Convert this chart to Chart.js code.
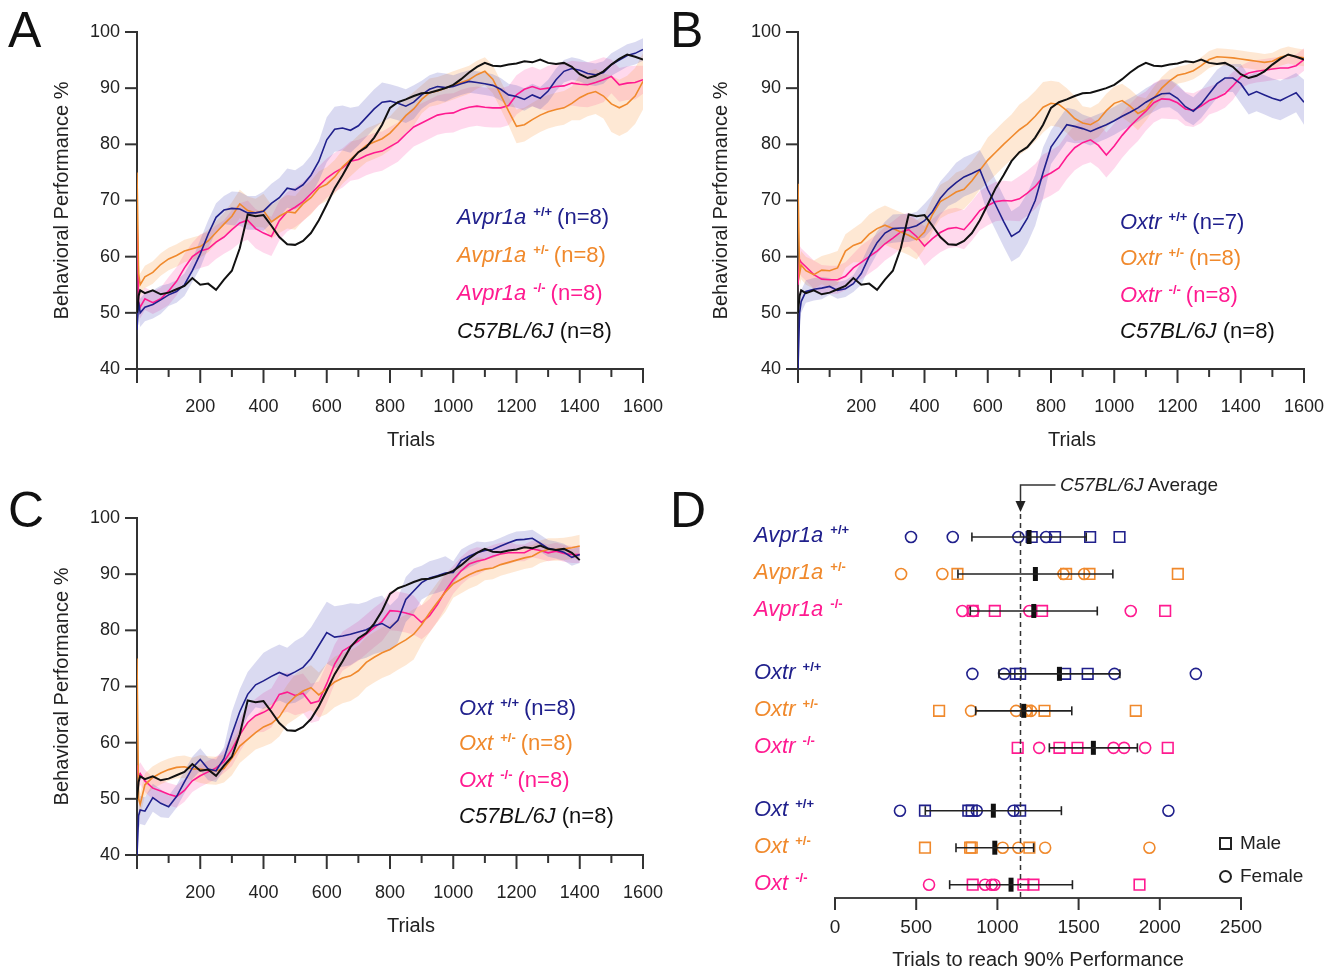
<!DOCTYPE html>
<html lang="en">
<head>
<meta charset="UTF-8">
<title>Trials to criterion</title>
<style>
  body { margin: 0; background: #fff; font-family: "Liberation Sans", Arial, sans-serif; }
  #fig { position: relative; width: 1340px; height: 976px; overflow: hidden; background: #fff; }
  #fig canvas { position: absolute; }
  .txt { position: absolute; white-space: nowrap; color: #222; }
  .txt i { font-style: italic; }
  .txt sup { font-size: 13px; font-weight: bold; font-style: normal; vertical-align: 8px; line-height: 0; margin: 0 5px 0 7px; }
  .mk { position: absolute; width: 9px; height: 9px; border: 2px solid #222; box-sizing: content-box; }
</style>
</head>
<body>
<div id="fig">
  <canvas id="chartA" width="670" height="470" style="left:0;top:0"></canvas>
  <canvas id="chartB" width="670" height="470" style="left:670px;top:0"></canvas>
  <canvas id="chartC" width="670" height="496" style="left:0;top:480px"></canvas>
  <canvas id="chartD" width="670" height="506" style="left:670px;top:470px"></canvas>
</div>

<script src="https://cdn.jsdelivr.net/npm/chart.js"></script>
<script>
// trial numbers shared by every curve (panel C stops at 1400)
const trials = [0, 5, 10,
  25, 50, 75, 100, 125, 150, 175, 200, 225, 250, 275, 300, 325, 350, 375, 400,
  425, 450, 475, 500, 525, 550, 575, 600, 625, 650, 675, 700, 725, 750, 775, 800,
  825, 850, 875, 900, 925, 950, 975, 1000, 1025, 1050, 1075, 1100, 1125, 1150, 1175, 1200,
  1225, 1250, 1275, 1300, 1325, 1350, 1375, 1400, 1425, 1450, 1475, 1500, 1525, 1550, 1575, 1600];

// C57BL/6J control, same curve in A, B and C
const c57 = [50, 53, 54,
  53.5, 54, 53.3, 53.6,  54.2, 54.8, 56.2, 55,  55.2, 54.1, 55.9, 57.5,  61.5, 67.5, 67.2, 67.4,
  65.5, 63.5, 62.2, 62.1,  62.8, 64.2, 66.5, 69.3,  72.2, 74.5, 77, 78.6,  79.5, 81.2, 83.5, 86.5,
  87.5, 88, 88.6, 89.1,  89.2, 89.6, 90, 90.6,  91.6, 92.8, 93.8, 94.5,  94, 93.9, 94.2, 94.4,
  94.8, 94.6, 95.1, 94.5,  94.3, 94.5, 93.8, 92.5,  91.8, 92.2, 93, 94.2,  95.2, 96, 95.6, 95.1];

// panel A
const avprWt = [47, 52, 50,
  51, 51.5, 52.3, 53.2,  53.8, 55, 57.5, 60.5,  64, 67, 68.3, 68.6,  68.5, 67.8, 67.8, 68.1,
  69.5, 70.5, 72.2, 71.9,  72.8, 74.5, 77, 80.8,  82.7, 82.9, 82.5, 83.3,  84.8, 86.3, 87.5, 87.7,
  87.3, 86.8, 87.5, 88.8,  89.8, 90.3, 90.1, 90.3,  90.8, 91.2, 91, 90.8,  90.5, 89.8, 88.8, 88.5,
  88, 88.8, 88.2, 89.5,  91.5, 93, 93.5, 93.2,  92.6, 92.4, 92.8, 94.2,  95, 95.8, 96.2, 96.9];
const avprHet = [75, 57, 55,
  56.4, 57.2, 58.6, 59.6,  60.2, 61, 61.4, 61.8,  62.8, 64.3, 65.8, 67.2,  69.4, 68.2, 67.8, 68.2,
  66.2, 67.2, 68, 67.8,  69.4, 70.5, 72.2, 72.9,  74.2, 76, 77.3, 78.6,  79.8, 80.4, 81, 82,
  83.5, 85.1, 86.3, 88,  89.2, 89.5, 90, 90.5,  91, 91.5, 92.4, 93,  91.6, 88.8, 85.9, 83.2,
  83.5, 84.4, 85.2, 85.8,  86.2, 86.5, 87.3, 88.3,  89, 89.4, 88.6, 87.2,  86.5, 87.2, 88.6, 91.2];
const avprKo = [67, 52, 51,
  52.5, 51.8, 52.5, 53.9,  55.6, 58, 60, 61,  61.4, 62.6, 63.5, 64.8,  66, 66.5, 65, 64.2,
  63.6, 66.4, 68, 68.8,  69.8, 71.2, 72.6, 74,  75, 75.8, 77, 77.3,  78, 78.5, 78.8, 79.6,
  80.4, 81.8, 83.1, 83.8,  84.5, 85.2, 85.5, 85.6,  86.2, 86.6, 86.8, 86.6,  86.5, 86.5, 86.9, 88.8,
  89.8, 90.3, 89.8, 90,  90.3, 90.4, 90.9, 90.7,  90.6, 91, 91.5, 92.1,  90.6, 90.9, 91, 91.5];

// panel B
const oxtrWt = [40, 50, 52,
  53.8, 54.2, 54.4, 54.7,  54, 54.3, 55.2, 57,  60, 62.5, 64.2, 65,  65.1, 65.1, 65.5, 66.4,
  68, 70.4, 72, 73.2,  74.2, 74.8, 75.5, 72,  69.2, 66.3, 63.6, 64.5,  66.8, 70, 75, 79.5,
  81.5, 83.5, 83.2, 82.8,  82.3, 82.9, 83.5, 84.2,  85, 85.7, 86.5, 87.5,  88.3, 89, 89.1, 88.2,
  86.7, 85.9, 87.2, 89,  90.8, 91.8, 91.8, 90.8,  88.8, 89.4, 88.8, 88.2,  87.8, 88.5, 89.2, 87.5];
const oxtrHet = [73, 57, 58.5,
  57.5, 56.8, 57.6, 57.5,  58, 61, 62, 62.5,  64, 65, 65.6, 65,  64.4, 63.8, 63, 64.4,
  67.5, 69.8, 70.6, 71.5,  72, 73.5, 75.4, 77.2,  78.6, 80, 81.3, 82.6,  83.6, 85, 86.6, 87.3,
  87.1, 86, 84.6, 83.8,  83.5, 84.3, 86, 87.3,  87.8, 86.8, 85.5, 86.2,  88.2, 90, 91.3, 92.3,
  92.6, 93.1, 94, 95.1,  95.6, 95.5, 95.4, 95.2,  95, 94.8, 94.6, 94.8,  95.5, 95.9, 95.6, 95.4];
const oxtrKo = [55, 59.5, 59,
  58.2, 56.8, 56, 55.9,  55.9, 56.5, 58, 59,  60, 61, 62.3, 63.3,  64.4, 64.8, 63.6, 61.9,
  63.2, 64.3, 65, 65.2,  64.8, 66.4, 68.2, 69.1,  69.8, 70, 69.9, 70.3,  71.3, 72.5, 74.2, 74.9,
  75.8, 77.8, 79.4, 80.3,  80.8, 79.8, 78.1, 79.7,  81.6, 83.2, 84.6, 85.9,  87.4, 88.1, 88, 87.4,
  86.3, 86.1, 86.8, 87.8,  88.3, 89, 90.4, 92,  92.7, 93, 93.2, 93.4,  93.6, 93.6, 94, 95.1];

// panel C (0 - 1400 trials)
const oxtWt = [40, 47, 48,
  47.8, 50.2, 49.2, 48.6,  50.4, 53, 55.5, 57,  55.3, 55, 57.2, 61.5,  65.5, 68.6, 70.3, 71,
  71.8, 72.5, 71.9, 72.6,  73.4, 75, 77.3, 79.6,  78.8, 79, 79.3, 79.7,  80.1, 80.8, 81.2, 80.4,
  81.8, 85.5, 87, 88.5,  89.3, 89.7, 90.2, 90.3,  92.4, 93.2, 93.8, 94.2,  94.4, 95, 95.6, 96.1,
  96.2, 96.4, 95.5, 94.6,  94.3, 93.9, 93, 93.5];
const oxtHet = [75, 50, 49,
  52.5, 53.8, 54.6, 55.2,  55.6, 55.7, 55.3, 55.3,  55.1, 55, 55.4, 57.2,  59.4, 60.6, 61.8, 62.8,
  63.4, 64.6, 66.8, 68.2,  69.2, 69.8, 68.5, 69.6,  70.8, 71.5, 71.9, 72.8,  74.3, 75.2, 76, 76.6,
  77.5, 78.3, 79.3, 81,  83.1, 85, 86.8, 88.3,  89.1, 89.9, 90.5, 90.9,  91.1, 91.7, 92.1, 92.5,
  92.9, 93.2, 94, 94.4,  94.4, 94.5, 94.7, 95];
const oxtKo = [56, 54, 54.5,
  53.2, 51.9, 51.4, 50.8,  50.4, 51.5, 53.2, 54.1,  54.8, 55.5, 56.6, 58.8,  61.4, 63.6, 64.8, 65.4,
  66.2, 68.6, 69, 68.4,  68.8, 67, 67.4, 70.5,  74, 76.3, 77.2, 78.1,  79.3, 80.5, 81.6, 83.5,
  83.4, 83.1, 82.7, 81.4,  82.6, 84.6, 87, 89,  90.6, 91.8, 92.3, 92.6,  93.2, 93.6, 93.8, 93.8,
  93.8, 94.5, 94.2, 93.8,  94.1, 93.7, 93.5, 93.5];

// SEM per block of 100 trials (0-99, 100-199, ... 1600)
const avprWtSem  = [2.5, 2, 2.5, 3, 3.5, 3.5, 4, 3.5, 3, 2.5, 2, 2, 2, 2, 2, 2, 2];
const avprHetSem = [2, 2, 2, 2.5, 3, 3, 3, 3, 3, 2.5, 2.5, 2.5, 3, 3, 4, 5, 5];
const avprKoSem  = [2, 2.5, 3, 3.5, 3.5, 3.5, 3.5, 3.5, 3.5, 3.5, 3.5, 3.5, 3.5, 4, 4, 3, 2.5];
const oxtrWtSem  = [2, 1.5, 2, 2.5, 3, 3.5, 4.5, 4.5, 3, 2.5, 2.5, 2.5, 2.5, 2.5, 3.5, 3.5, 4];
const oxtrHetSem = [2.5, 3, 3.5, 3.5, 3, 3.5, 4, 4.5, 4, 3, 3, 2, 1.5, 1.5, 1.5, 1.5, 1.5];
const oxtrKoSem  = [2.5, 2.5, 3, 3, 3.5, 3.5, 3.5, 4, 4, 4, 4, 3.5, 3, 2.5, 2, 2, 2];
const oxtWtSem   = [2.5, 2, 2, 4, 5, 5.5, 5.5, 5, 4, 3, 2, 1.5, 1.5, 1.5, 1.5, 1.5, 1.5];
const oxtHetSem  = [2, 2, 2.5, 3, 3.5, 4, 4.5, 4.5, 4.5, 3.5, 2.5, 2, 2, 2, 2, 2, 2];
const oxtKoSem   = [2, 2, 2, 3, 3.5, 3.5, 3.5, 3.5, 3.5, 3, 2.5, 2, 1.5, 1.5, 1.5, 1.5, 1.5];

// panel D: trials to reach 90% performance
const dGenes = ['Avpr1a', 'Avpr1a', 'Avpr1a', 'Oxtr', 'Oxtr', 'Oxtr', 'Oxt', 'Oxt', 'Oxt'];
const dGenotypes = ['+/+', '+/-', '-/-', '+/+', '+/-', '-/-', '+/+', '+/-', '-/-'];
const dMale = [
  [1211, 1355, 1571, 1752], [754, 1423, 1567, 2111], [848, 984, 1275, 2033],
  [1113, 1140, 1417, 1556], [641, 1181, 1290, 1852], [1125, 1382, 1493, 2049],
  [554, 821, 842, 1140], [554, 832, 842, 1197], [848, 1160, 1222, 1875]];
const dFemale = [
  [468, 725, 1129, 1300], [407, 661, 1407, 1534], [784, 852, 1197, 1821],
  [846, 1041, 1721, 2222], [838, 1115, 1177, 1207], [1257, 1715, 1780, 1910],
  [400, 873, 1099, 2053], [1033, 1129, 1294, 1936], [579, 924, 965, 982]];
const dMean = [1195, 1234, 1224, 1382, 1162, 1591, 975, 984, 1084];
const dSd = [352, 477, 391, 372, 296, 271, 419, 239, 378];
const c57Avg = 1140;

const BLUE = '#20208c', ORANGE = '#f0892c', PINK = '#ff1a90', BLACK = '#111';
const BLUE_BAND = 'rgba(85,85,190,0.22)', ORANGE_BAND = 'rgba(250,165,90,0.26)', PINK_BAND = 'rgba(255,105,185,0.25)';
const rowColors = [BLUE, ORANGE, PINK];

Chart.defaults.font.family = '"Liberation Sans", Arial, sans-serif';
Chart.defaults.color = '#222';

// tick marks drawn by hand so that minor ticks can be shorter
const tickMarks = {
  id: 'tickMarks',
  afterDraw(chart, args, opts) {
    const ctx = chart.ctx;
    ctx.save();
    ctx.strokeStyle = '#333';
    ctx.lineWidth = 2;
    Object.values(chart.scales).forEach(sc => {
      if (!sc.options.display) return;
      sc.ticks.forEach(t => {
        const p = sc.getPixelForValue(t.value);
        ctx.beginPath();
        if (sc.isHorizontal()) {
          const len = (opts.major && t.value % opts.major !== 0) ? opts.minorLen : opts.xLen;
          ctx.moveTo(p, sc.top);
          ctx.lineTo(p, sc.top + len);
        } else {
          ctx.moveTo(sc.right, p);
          ctx.lineTo(sc.right - opts.yLen, p);
        }
        ctx.stroke();
      });
    });
    ctx.restore();
  }
};

function pts(vals) {
  return vals.map((v, i) => ({ x: trials[i], y: v }));
}
function band(vals, sem, sign) {
  return vals.map((v, i) => ({ x: trials[i], y: v + sign * sem[Math.min(sem.length - 1, Math.floor(trials[i] / 100))] }));
}

function linePanel(id, wt, het, ko, sems, lay) {
  const n = wt.length;
  const lines = [
    { data: pts(c57.slice(0, n)), borderColor: BLACK, borderWidth: 2 },
    { data: pts(wt), borderColor: BLUE, borderWidth: 1.6 },
    { data: pts(het), borderColor: ORANGE, borderWidth: 1.6 },
    { data: pts(ko), borderColor: PINK, borderWidth: 1.6 }
  ];
  const bandCols = [BLUE_BAND, ORANGE_BAND, PINK_BAND];
  const bands = [];
  [wt, het, ko].forEach((vals, k) => {
    bands.push({ data: band(vals, sems[k], 1), borderWidth: 0, borderColor: 'rgba(0,0,0,0)', backgroundColor: bandCols[k], fill: '+1' });
    bands.push({ data: band(vals, sems[k], -1), borderWidth: 0, borderColor: 'rgba(0,0,0,0)', fill: false });
  });
  new Chart(document.getElementById(id), {
    type: 'line',
    data: { datasets: lines.concat(bands) },
    options: {
      responsive: false, animation: false, devicePixelRatio: 1, events: [],
      layout: { padding: lay.pad },
      elements: { point: { radius: 0 }, line: { tension: 0 } },
      plugins: {
        legend: { display: false }, tooltip: { enabled: false },
        filler: { drawTime: 'beforeDatasetsDraw' },
        tickMarks: { xLen: 14, minorLen: 8, major: 200, yLen: 12 }
      },
      scales: {
        x: {
          type: 'linear', min: 0, max: 1600,
          afterFit: s => { s.height = lay.xh; s.paddingLeft = 0; s.paddingRight = 0; },
          border: { display: true, color: '#333', width: 2 },
          grid: { drawOnChartArea: false, drawTicks: false },
          ticks: { stepSize: 100, autoSkip: false, maxRotation: 0, padding: 27, font: { size: 18 },
                   callback: v => (v > 0 && v % 200 === 0) ? String(v) : '' },
          title: { display: false }
        },
        y: {
          min: 40, max: 100,
          afterFit: s => { s.width = lay.yw; s.paddingTop = 0; s.paddingBottom = 0; },
          border: { display: true, color: '#333', width: 2 },
          grid: { drawOnChartArea: false, drawTicks: false },
          ticks: { stepSize: 10, padding: 17, font: { size: 18 } },
          title: { display: true, text: 'Behavioral Performance %', font: { size: 20 } }
        }
      }
    },
    plugins: [tickMarks]
  });
}

linePanel('chartA', avprWt, avprHet, avprKo, [avprWtSem, avprHetSem, avprKoSem],
  { pad: { left: 46, top: 32, right: 27, bottom: 15 }, yw: 91, xh: 86 });
linePanel('chartB', oxtrWt, oxtrHet, oxtrKo, [oxtrWtSem, oxtrHetSem, oxtrKoSem],
  { pad: { left: 35, top: 32, right: 36, bottom: 15 }, yw: 93, xh: 86 });
linePanel('chartC', oxtWt, oxtHet, oxtKo, [oxtWtSem, oxtHetSem, oxtKoSem],
  { pad: { left: 46, top: 38, right: 27, bottom: 35 }, yw: 91, xh: 86 });

// ---- panel D ----
const rowPos = dMean.map((m, i) => i + Math.floor(i / 3) * 0.7);
const errSets = [], markSets = [];
dMean.forEach((m, i) => {
  const y = rowPos[i];
  errSets.push({
    data: [{ x: m - dSd[i], y }, { x: m + dSd[i], y }], showLine: true,
    borderColor: '#222', borderWidth: 1.6,
    pointStyle: 'line', pointRotation: 90, pointRadius: 4.5, pointBorderWidth: 1.6, pointBorderColor: '#222'
  });
  errSets.push({
    data: [{ x: m, y }], showLine: false,
    pointStyle: 'line', pointRotation: 90, pointRadius: 7, pointBorderWidth: 5, pointBorderColor: '#111'
  });
  const col = rowColors[i % 3];
  markSets.push({
    data: dMale[i].map(v => ({ x: v, y })), pointStyle: 'rect', pointRadius: 7.5, pointBorderWidth: 1.6,
    pointBorderColor: col, pointBackgroundColor: 'rgba(0,0,0,0)'
  });
  markSets.push({
    data: dFemale[i].map(v => ({ x: v, y })), pointStyle: 'circle', pointRadius: 5.5, pointBorderWidth: 1.6,
    pointBorderColor: col, pointBackgroundColor: 'rgba(0,0,0,0)'
  });
});

const c57Line = {
  id: 'c57Line',
  afterDraw(chart) {
    const ctx = chart.ctx, xs = chart.scales.x, area = chart.chartArea;
    const x = Math.round(xs.getPixelForValue(c57Avg)) + 0.5;
    ctx.save();
    ctx.strokeStyle = '#333';
    ctx.lineWidth = 1.5;
    ctx.setLineDash([5, 4]);
    ctx.beginPath();
    ctx.moveTo(x, area.top + 14);
    ctx.lineTo(x, area.bottom);
    ctx.stroke();
    ctx.setLineDash([]);
    ctx.beginPath();
    ctx.moveTo(x + 35, 15);
    ctx.lineTo(x, 15);
    ctx.lineTo(x, 34);
    ctx.stroke();
    ctx.fillStyle = '#222';
    ctx.beginPath();
    ctx.moveTo(x - 5, 31);
    ctx.lineTo(x + 5, 31);
    ctx.lineTo(x, 42);
    ctx.closePath();
    ctx.fill();
    ctx.restore();
  }
};

new Chart(document.getElementById('chartD'), {
  type: 'scatter',
  data: { datasets: errSets.concat(markSets) },
  options: {
    responsive: false, animation: false, devicePixelRatio: 1, events: [],
    layout: { padding: { left: 165, right: 99, top: 30, bottom: 0 } },
    plugins: { legend: { display: false }, tooltip: { enabled: false }, tickMarks: { xLen: 12, yLen: 0 } },
    scales: {
      x: {
        type: 'linear', min: 0, max: 2500,
        afterFit: s => { s.height = 78; s.paddingLeft = 0; s.paddingRight = 0; },
        border: { display: true, color: '#444', width: 2 },
        grid: { drawOnChartArea: false, drawTicks: false },
        ticks: { stepSize: 500, autoSkip: false, maxRotation: 0, padding: 18, font: { size: 19 },
                 callback: v => String(v) },
        title: { display: true, text: 'Trials to reach 90% Performance', font: { size: 20 } }
      },
      y: { display: false, min: -1, max: 9.76, reverse: true }
    }
  },
  plugins: [tickMarks, c57Line]
});

// ---- text overlays ----
const fig = document.getElementById('fig');
function addText(html, left, cy, size, color, centered) {
  const d = document.createElement('div');
  d.className = 'txt';
  d.style.left = left + 'px';
  d.style.top = (cy - size * 0.6) + 'px';
  d.style.fontSize = size + 'px';
  d.style.lineHeight = (size * 1.2) + 'px';
  d.style.color = color || '#222';
  if (centered) d.style.transform = 'translateX(-50%)';
  d.innerHTML = html;
  fig.appendChild(d);
}
function addLegend(gene, ns, left, ys) {
  const cols = [BLUE, ORANGE, PINK];
  ['+/+', '+/-', '-/-'].forEach((g, k) => {
    addText('<i>' + gene + '</i><sup>' + g + '</sup>(n=' + ns[k] + ')', left, ys[k], 22, cols[k]);
  });
  addText('<i>C57BL/6J</i> (n=8)', left, ys[3], 22, BLACK);
}
addLegend('Avpr1a', [8, 8, 8], 457, [217, 255, 293, 331]);
addLegend('Oxtr', [7, 8, 8], 1120, [222, 258, 295, 331]);
addLegend('Oxt', [8, 8, 8], 459, [708, 743, 780, 816]);

addText('Trials', 411, 439, 20, '#222', true);
addText('Trials', 1072, 439, 20, '#222', true);
addText('Trials', 411, 925, 20, '#222', true);

addText('A', 8, 30, 50, '#111');
addText('B', 670, 30, 50, '#111');
addText('C', 8, 510, 50, '#111');
addText('D', 670, 510, 50, '#111');

dGenes.forEach((g, i) => {
  addText('<i>' + g + '</i><sup>' + dGenotypes[i] + '</sup>', 754, 537 + rowPos[i] * 37 - 2, 22, rowColors[i % 3]);
});
addText('<i>C57BL/6J</i> Average', 1060, 485, 19, '#222');

function addMarker(cx, cy, round) {
  const m = document.createElement('div');
  m.className = 'mk';
  m.style.left = (cx - 6) + 'px';
  m.style.top = (cy - 6) + 'px';
  if (round) m.style.borderRadius = '50%';
  fig.appendChild(m);
}
addMarker(1225, 843, false);
addMarker(1225, 876, true);
addText('Male', 1240, 843, 19, '#222');
addText('Female', 1240, 876, 19, '#222');
</script>
</body>
</html>
